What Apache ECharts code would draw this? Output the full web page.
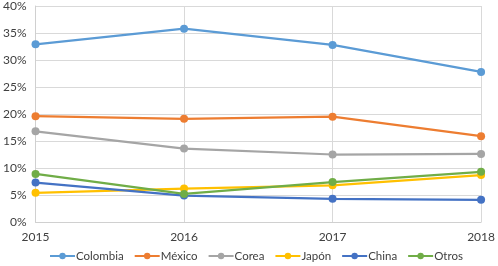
<!DOCTYPE html>
<html>
<head>
<meta charset="utf-8">
<script src="https://cdn.jsdelivr.net/npm/echarts@6/dist/echarts.min.js"></script>
<style>
  html, body { margin: 0; padding: 0; background: #fff; }
  #chart { width: 498px; height: 266px; }
</style>
</head>
<body>
<div id="chart"></div>
<script>
const years = ['2015', '2016', '2017', '2018']
const colombia = [32.9, 35.8, 32.8, 27.8]
const mexico = [19.6, 19.1, 19.5, 15.9]
const corea = [16.8, 13.6, 12.5, 12.6]
const japon = [5.4, 6.2, 6.8, 8.7]
const china = [7.3, 4.9, 4.3, 4.1]
const otros = [8.9, 5.2, 7.4, 9.3]

const names = ['Colombia', 'México', 'Corea', 'Japón', 'China', 'Otros']
const colors = ['#5B9BD5', '#ED7D31', '#A5A5A5', '#FFC000', '#4472C4', '#70AD47']
const values = [colombia, mexico, corea, japon, china, otros]

const chart = echarts.init(document.getElementById('chart'))

const option = {
  backgroundColor: '#fff',
  animation: false,
  textStyle: { fontFamily: 'Lato' },
  grid: { left: 32, right: 13, top: 6, bottom: 44 },
  legend: {
    top: 250,
    left: 49,
    padding: 0,
    itemWidth: 25,
    itemHeight: 8,
    itemGap: 10,
    textStyle: { color: '#404040', fontSize: 11.5, padding: [0, 0, 0, -4] },
    data: names
  },
  xAxis: {
    type: 'category',
    data: years,
    boundaryGap: false,
    axisLine: { lineStyle: { color: '#D0D0D0' } },
    axisTick: { show: false },
    axisLabel: { color: '#404040', fontSize: 12, margin: 9 },
    splitLine: { show: true, lineStyle: { color: '#D9D9D9' } }
  },
  yAxis: {
    type: 'value',
    min: 0,
    max: 40,
    interval: 5,
    axisLine: { show: true, lineStyle: { color: '#D0D0D0' } },
    axisLabel: { color: '#404040', fontSize: 12, margin: 9, formatter: '{value}%' },
    splitLine: { lineStyle: { color: '#D9D9D9' } }
  },
  series: names.map((name, i) => ({
    name: name,
    type: 'line',
    data: values[i],
    symbol: 'circle',
    symbolSize: 8,
    color: colors[i],
    lineStyle: { width: 2.25, color: colors[i] },
    itemStyle: { color: colors[i] }
  }))
}

chart.setOption(option)
</script>
</body>
</html>
